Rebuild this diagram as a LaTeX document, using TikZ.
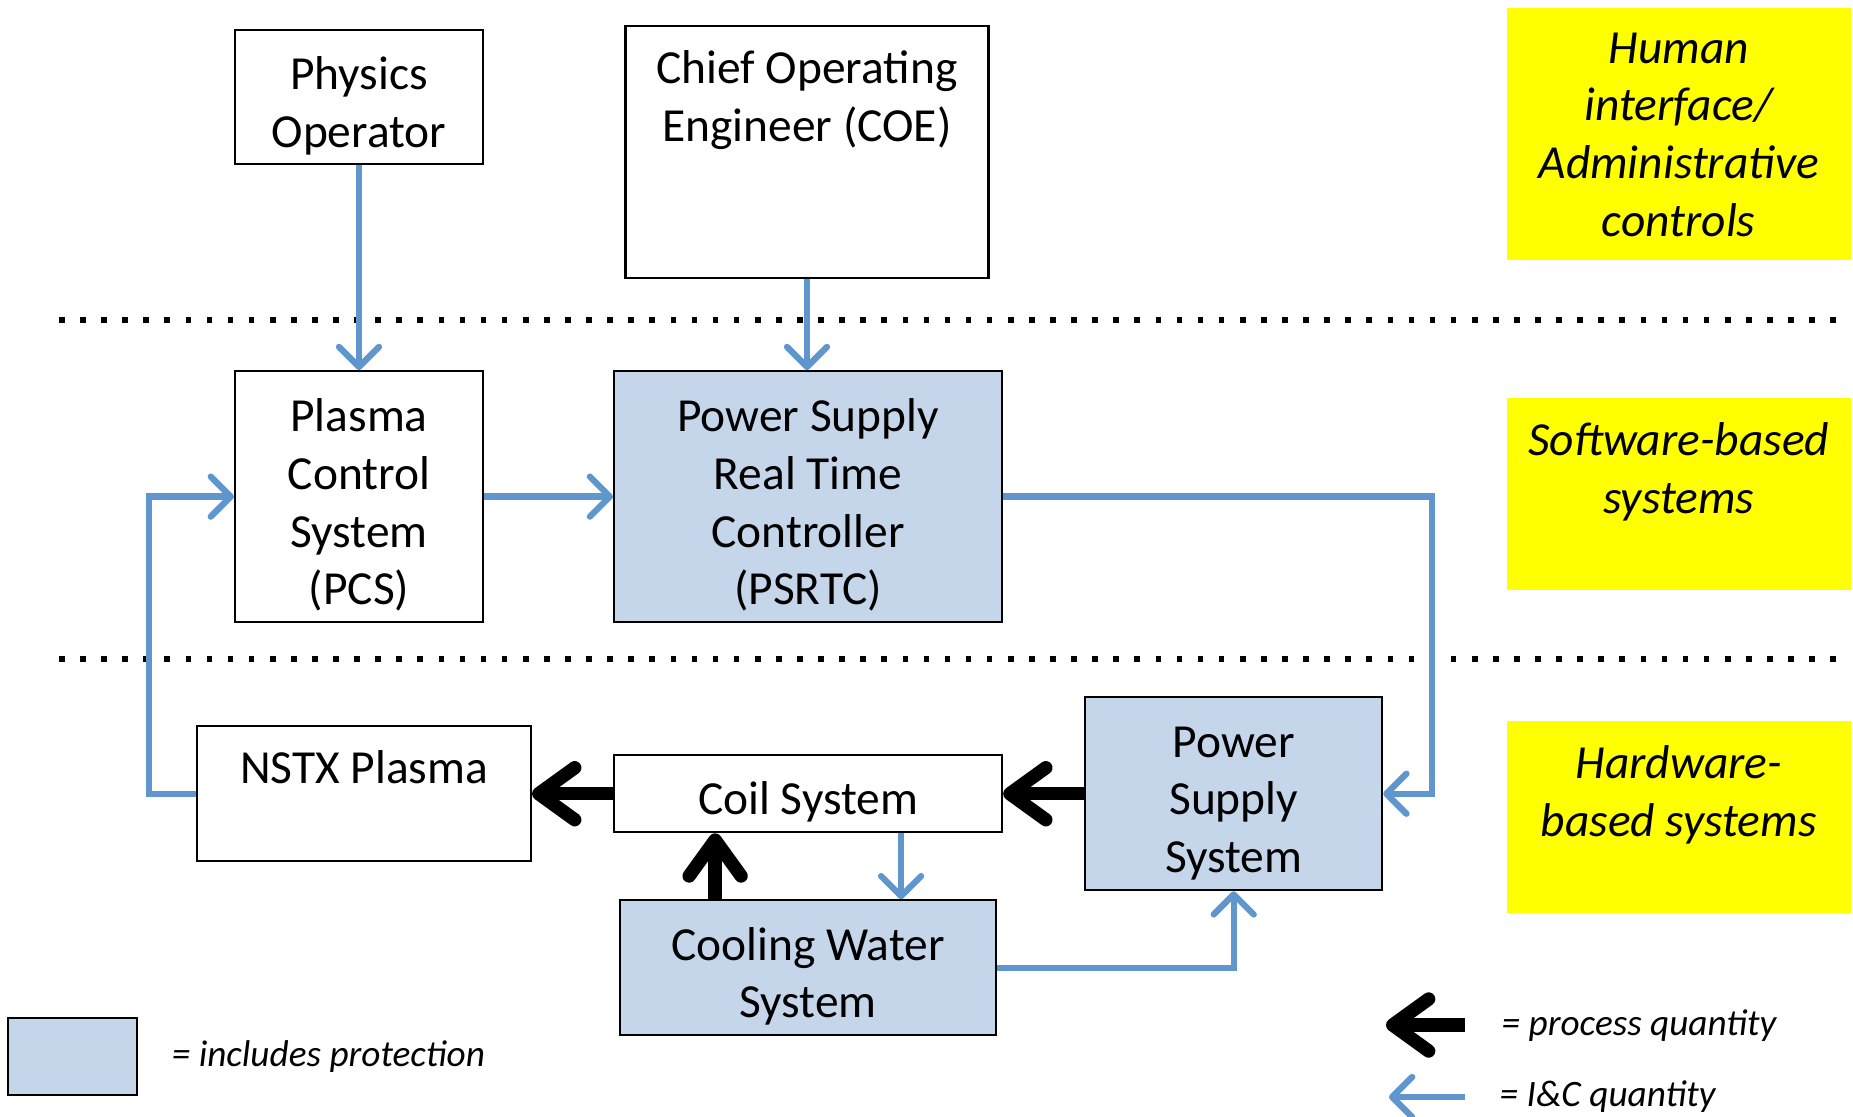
\documentclass[tikz,border=0pt]{standalone}
\usepackage{fontspec}
\setmainfont{Carlito}
\usetikzlibrary{arrows.meta, positioning}
\definecolor{icblue}{RGB}{95,150,205}
\definecolor{protfill}{RGB}{197,214,235}
\definecolor{hlyellow}{RGB}{255,255,0}

\begin{document}
\begin{tikzpicture}[
        every node/.style={font=\fontsize{13.5}{16.4}\selectfont},
        box/.style={draw, line width=0.6pt, align=flush center, inner sep=2pt, execute at begin node={\rule{0pt}{0.5cm}}},
        prot/.style={box, fill=protfill},
        zone/.style={fill=hlyellow, minimum width=3.44cm, anchor=north west},
        toptext/.style={anchor=north, inner sep=0pt, align=center, yshift=-0.25cm},
        zonetxt/.style={toptext, font=\fontsize{13.5}{16.4}\selectfont\itshape},
        legend/.style={font=\fontsize{10.6}{12}\selectfont\itshape, inner sep=0pt, anchor=west},
        ic/.style={draw=icblue, line width=1.8pt, -{Straight Barb[length=0.2cm, width=0.4cm, round]}},
        pq/.style={line width=3.8pt, -{Straight Barb[length=0.36cm, width=0.52cm, round]}},
        divider/.style={line width=1.6pt, dash pattern=on 1.6pt off 4.4pt},
    ]
    \useasboundingbox (0,0) rectangle (18.53,-11.16);

    %% Levels
    \node[zone, minimum height=2.52cm, label={[zonetxt]north:Human\\interface/\\Administrative\\controls}] (zhuman) at (15.06,-0.07) {};
    \node[zone, minimum height=1.92cm, label={[zonetxt]north:Software-based\\systems}] (zsoft) at (15.06,-3.97) {};
    \node[zone, minimum height=1.92cm, label={[zonetxt]north:Hardware-\\based systems}] (zhard) at (15.06,-7.20) {};

    \draw[divider] (0.59,-3.20) -- (18.38,-3.20);
    \draw[divider] (0.59,-6.59) -- (18.38,-6.59);

    %% Human interface
    \node[box, text width=2.3cm, minimum width=2.48cm, minimum height=1.34cm] (phys) at (3.59,-0.97) {Physics\\Operator};
    \node[draw, line width=0.6pt, minimum width=3.63cm, minimum height=2.52cm, label={[toptext]north:Chief Operating\\Engineer (COE)}] (coe) at (8.07,-1.52) {};

    %% Software
    \node[box, text width=2.3cm, minimum width=2.48cm, minimum height=2.51cm, below=2.05cm of phys] (pcs) {Plasma\\Control\\System\\(PCS)};
    \node[prot, text width=3.7cm, minimum width=3.88cm, minimum height=2.51cm, right=1.29cm of pcs] (psrtc) {Power Supply\\Real Time\\Controller\\(PSRTC)};

    %% Hardware
    \node[box, text width=3.7cm, minimum width=3.88cm, minimum height=0.77cm, below=1.31cm of psrtc] (coil) {Coil System};
    \node[prot, text width=2.8cm, minimum width=2.97cm, minimum height=1.93cm, right=0.81cm of coil] (pss) {Power\\Supply\\System};
    \node[draw, line width=0.6pt, minimum width=3.34cm, minimum height=1.35cm, left=0.81cm of coil, label={[toptext]north:NSTX Plasma}] (nstx) {};
    \node[prot, text width=3.6cm, minimum width=3.76cm, minimum height=1.35cm, below=0.66cm of coil] (cws) {Cooling Water\\System};

    %% I&C signals
    \draw[ic] (phys.south) -- (pcs.north);
    \draw[ic] (coe.south) -- (coe.south |- psrtc.north);
    \draw[ic] (pcs.east) -- (psrtc.west);
    \draw[ic] (psrtc.east) -- ++(4.29,0) |- (pss.east);
    \draw[ic] (nstx.west) -- ++(-0.47,0) |- (pcs.west);
    \draw[ic] (cws.east) -| (pss.south);
    \draw[ic] ([xshift=0.93cm]coil.south) -- ([xshift=0.93cm]cws.north);

    %% Process quantities
    \draw[pq] (pss.west) -- (coil.east);
    \draw[pq] (coil.west) -- (nstx.east);
    \draw[pq] ([xshift=-0.93cm]cws.north) -- ([xshift=-0.93cm]coil.south);

    %% Legend
    \node[draw, line width=0.6pt, fill=protfill, minimum width=1.29cm, minimum height=0.77cm, anchor=north west] (keyprot) at (0.07,-10.17) {};
    \node[legend, right=0.33cm of keyprot] (keyprottxt) {= includes protection};

    \coordinate (keypqa) at (14.65,-10.25);
    \coordinate (keypqb) at (13.86,-10.25);
    \draw[pq] (keypqa) -- (keypqb);
    \node[legend] (keypqtxt) at (15.01,-10.26) {= process quantity};

    \coordinate (keyica) at (14.65,-10.97);
    \coordinate (keyicb) at (13.89,-10.97);
    \draw[ic] (keyica) -- (keyicb);
    \node[legend] (keyictxt) at (14.99,-10.97) {= I\&C quantity};

\end{tikzpicture}
\end{document}
